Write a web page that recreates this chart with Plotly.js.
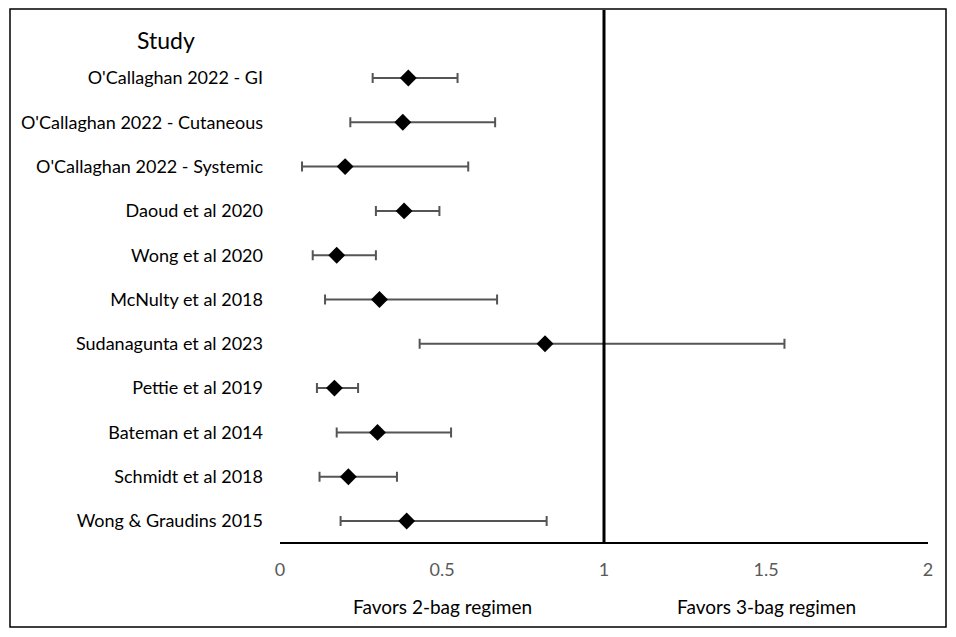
<!DOCTYPE html>
<html>
<head>
<meta charset="utf-8">
<script src="https://cdn.plot.ly/plotly-3.0.1.min.js"></script>
<style>html,body{margin:0;padding:0;background:#fff;}#chart{width:956px;height:637px;}</style>
</head>
<body>
<div id="chart"></div>
<script>
// Data
const studies = [
  "O'Callaghan 2022 - GI",
  "O'Callaghan 2022 - Cutaneous",
  "O'Callaghan 2022 - Systemic",
  "Daoud et al 2020",
  "Wong et al 2020",
  "McNulty et al 2018",
  "Sudanagunta et al 2023",
  "Pettie et al 2019",
  "Bateman et al 2014",
  "Schmidt et al 2018",
  "Wong & Graudins 2015"
];
const estimate = [0.396, 0.379, 0.201, 0.383, 0.175, 0.307, 0.818, 0.168, 0.301, 0.211, 0.391];
const lower    = [0.286, 0.217, 0.068, 0.296, 0.101, 0.139, 0.431, 0.114, 0.175, 0.122, 0.187];
const upper    = [0.548, 0.664, 0.581, 0.492, 0.296, 0.670, 1.557, 0.241, 0.528, 0.361, 0.823];
const xTickVals = [0, 0.5, 1, 1.5, 2];
const xTickText = ["0", "0.5", "1", "1.5", "2"];
const sideLabels = ["Favors 2-bag regimen", "Favors 3-bag regimen"];
const sideLabelPos = [0.5, 1.5];

const n = studies.length;
const rowY = studies.map((s, i) => n - i);

const trace = {
  type: 'scatter',
  mode: 'markers',
  x: estimate,
  y: rowY,
  marker: {symbol: 'diamond', size: 13, color: '#000000'},
  error_x: {
    type: 'data',
    symmetric: false,
    array: upper.map((u, i) => u - estimate[i]),
    arrayminus: lower.map((l, i) => estimate[i] - l),
    color: '#555555',
    thickness: 2,
    width: 5
  },
  hoverinfo: 'x+y',
  showlegend: false
};

const font = "Lato, sans-serif";

const layout = {
  width: 956, height: 637,
  margin: {l: 280, r: 28, t: 10, b: 95},
  paper_bgcolor: '#ffffff', plot_bgcolor: '#ffffff',
  font: {family: font, size: 18, color: '#000'},
  xaxis: {
    range: [0, 2],
    tickvals: xTickVals, ticktext: xTickText,
    showgrid: false, zeroline: false,
    showline: true, linecolor: '#000', linewidth: 2,
    ticks: '', ticklabelstandoff: 10,
    tickfont: {family: font, size: 18, color: '#595959'},
    fixedrange: true
  },
  yaxis: {
    range: [0.526, 12.535],
    tickvals: rowY, ticktext: studies,
    showgrid: false, zeroline: false, showline: false,
    ticks: '', ticklabelstandoff: 16,
    tickfont: {family: font, size: 18, color: '#000'},
    fixedrange: true
  },
  shapes: [
    {type: 'line', xref: 'x', yref: 'paper', x0: 1, x1: 1, y0: 0, y1: 1,
     line: {color: '#000', width: 3}},
    {type: 'rect', xref: 'paper', yref: 'paper',
     x0: (10 - 280) / 648, x1: (946 - 280) / 648,
     y0: (542 - 627) / 532, y1: (542 - 9) / 532,
     line: {color: '#000', width: 1.5}, fillcolor: 'rgba(0,0,0,0)'}
  ],
  annotations: [
    {text: 'Study', xref: 'paper', yref: 'paper',
     x: (166 - 280) / 648, y: (542 - 40) / 532, xanchor: 'center', yanchor: 'middle',
     showarrow: false, font: {family: font, size: 23, color: '#000'}}
  ].concat(sideLabels.map((t, i) => ({
    text: t, xref: 'x', yref: 'paper', x: sideLabelPos[i],
    y: (542 - 606) / 532, xanchor: 'center', yanchor: 'middle',
    showarrow: false, font: {family: font, size: 19, color: '#000'}
  })))
};

Plotly.newPlot('chart', [trace], layout, {displayModeBar: false, staticPlot: true});
</script>
</body>
</html>
